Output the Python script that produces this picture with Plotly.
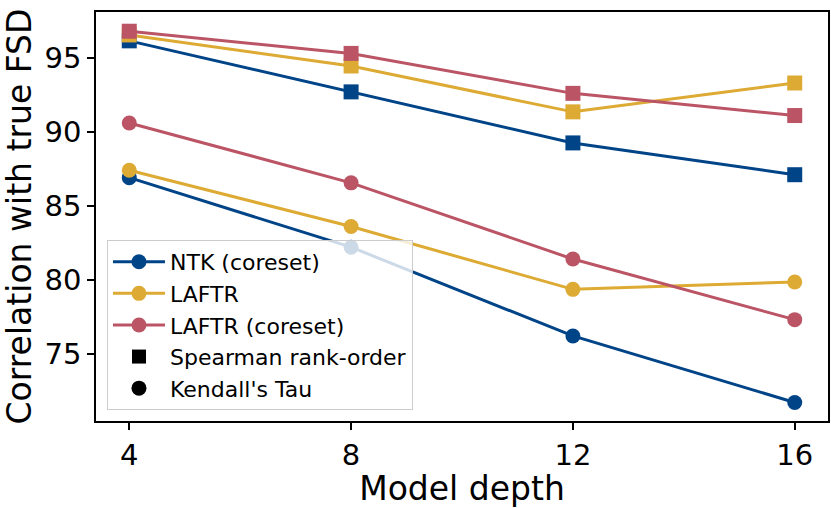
import plotly.graph_objects as go

# Model depth on the x axis
depths = [4, 8, 12, 16]

# Spearman rank-order correlation (squares)
ntk_coreset_spearman = [96.15, 92.7, 89.25, 87.1]
laftr_spearman = [96.55, 94.45, 91.35, 93.3]
laftr_coreset_spearman = [96.8, 95.3, 92.6, 91.1]

# Kendall's Tau correlation (circles)
ntk_coreset_kendall = [86.9, 82.2, 76.2, 71.7]
laftr_kendall = [87.4, 83.6, 79.35, 79.85]
laftr_coreset_kendall = [90.6, 86.55, 81.4, 77.3]

series_names = ["NTK (coreset)", "LAFTR", "LAFTR (coreset)"]
colors = ["#004488", "#DDAA33", "#BB5566"]
spearman = [ntk_coreset_spearman, laftr_spearman, laftr_coreset_spearman]
kendall = [ntk_coreset_kendall, laftr_kendall, laftr_coreset_kendall]

font = "DejaVu Sans"

fig = go.Figure()

# Spearman lines (no legend entries)
for name, col, vals in zip(series_names, colors, spearman):
    fig.add_trace(go.Scatter(x=depths, y=vals, mode="lines+markers", name=name,
                             line=dict(color=col, width=3),
                             marker=dict(symbol="square", size=15, color=col),
                             showlegend=False))

# Kendall lines (these carry the series legend entries)
for name, col, vals in zip(series_names, colors, kendall):
    fig.add_trace(go.Scatter(x=depths, y=vals, mode="lines+markers", name=name,
                             line=dict(color=col, width=3),
                             marker=dict(symbol="circle", size=15, color=col)))

# Marker-shape legend entries
fig.add_trace(go.Scatter(x=[None], y=[None], mode="markers", name="Spearman rank-order",
                         marker=dict(symbol="square", size=14, color="black")))
fig.add_trace(go.Scatter(x=[None], y=[None], mode="markers", name="Kendall's Tau",
                         marker=dict(symbol="circle", size=15, color="black")))

fig.update_layout(
    width=831, height=508,
    margin=dict(l=96, r=3, t=12, b=87),
    paper_bgcolor="white", plot_bgcolor="white",
    font=dict(family=font, size=30, color="black"),
    showlegend=True,
    legend=dict(x=0.015, y=0.027, xanchor="left", yanchor="bottom",
                bgcolor="rgba(255,255,255,0.8)", bordercolor="#cccccc", borderwidth=1,
                font=dict(family=font, size=22, color="black"),
                itemwidth=52, tracegroupgap=0),
)

fig.update_xaxes(range=[3.4, 16.6], tickvals=depths, ticktext=[str(d) for d in depths],
                 automargin=False,
                 showgrid=False, zeroline=False, showline=True, linecolor="black", linewidth=1.5,
                 mirror=True, ticks="outside", ticklen=7, tickwidth=1.5, tickcolor="black",
                 tickfont=dict(size=29),
                 title=dict(text="Model depth", font=dict(size=33), standoff=4))
fig.update_yaxes(range=[70.45, 98.1], tickvals=[75, 80, 85, 90, 95],
                 automargin=False,
                 showgrid=False, zeroline=False, showline=True, linecolor="black", linewidth=1.5,
                 mirror=True, ticks="outside", ticklen=7, tickwidth=1.5, tickcolor="black",
                 tickfont=dict(size=29),
                 title=dict(text="Correlation with true FSD", font=dict(size=33), standoff=4))

# drop the default page margin so the figure sits at the window's corner
fig.write_html("out.html", config={"displayModeBar": False},
               post_script="document.body.style.margin='0';")
